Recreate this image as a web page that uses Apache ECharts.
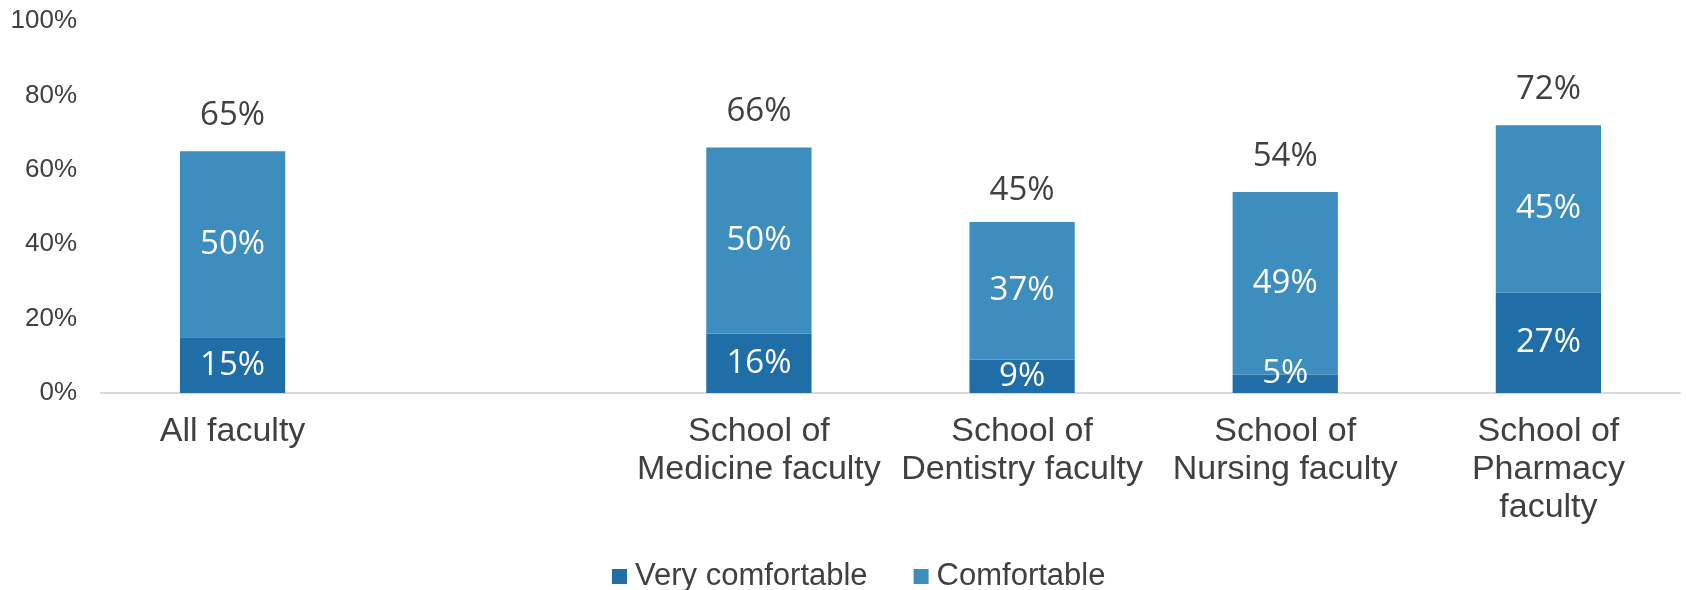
<!DOCTYPE html>
<html>
<head>
<meta charset="utf-8">
<script src="https://cdn.jsdelivr.net/npm/echarts@6/dist/echarts.min.js"></script>
<style>
html,body{margin:0;padding:0;background:#fff;}
#container{width:1686px;height:590px;}
</style>
</head>
<body>
<div id="container"></div>
<script>
// categories (the blank one is the gap after "All faculty")
var categories = ['All faculty', '', 'School of\nMedicine faculty', 'School of\nDentistry faculty', 'School of\nNursing faculty', 'School of\nPharmacy\nfaculty'];
var veryComfortable = [15, null, 16, 9, 5, 27];
var comfortable = [50, null, 50, 37, 49, 45];
var totals = [65, null, 66, 45, 54, 72];
var yTicks = [0, 20, 40, 60, 80, 100];

var dark = '#1f6ea8';
var light = '#3d8dbe';
var textColor = '#404040';

// very small segments: Excel lifts the label a bit
function withLift(arr) {
    return arr.map(function (v) {
        if (v != null && v < 7) {
            return { value: v, label: { offset: [0, -10] } };
        }
        return v;
    });
}

var dom = document.getElementById('container');
var myChart = echarts.init(dom);
var option = {
    animation: false,
    grid: {
        left: 101,
        right: 6,
        top: 21,
        bottom: 197
    },
    legend: {
        data: ['Very comfortable', 'Comfortable'],
        left: 607,
        top: 556,
        itemWidth: 15,
        itemHeight: 15,
        itemGap: 46,
        icon: 'rect',
        textStyle: {
            fontFamily: 'Liberation Sans',
            fontSize: 31,
            color: textColor,
            padding: [0, 0, 0, 3]
        }
    },
    xAxis: {
        type: 'category',
        data: categories,
        axisLine: { lineStyle: { color: '#d9d9d9', width: 2 } },
        axisTick: { show: false },
        axisLabel: {
            interval: 0,
            margin: 20,
            fontFamily: 'Liberation Sans',
            fontSize: 34,
            lineHeight: 38,
            color: textColor
        }
    },
    yAxis: {
        type: 'value',
        min: yTicks[0],
        max: yTicks[yTicks.length - 1],
        interval: 20,
        axisLine: { show: false },
        axisTick: { show: false },
        splitLine: { show: false },
        axisLabel: {
            formatter: '{value}%',
            margin: 24,
            fontFamily: 'Liberation Sans',
            fontSize: 26,
            color: textColor
        }
    },
    series: [{
        name: 'Very comfortable',
        type: 'bar',
        stack: 'a',
        barWidth: '40%',
        barGap: '-100%',
        itemStyle: { color: dark },
        label: {
            show: true,
            position: 'inside',
            formatter: '{c}%',
            fontFamily: 'Open Sans',
            fontSize: 33,
            color: '#fff'
        },
        data: withLift(veryComfortable)
    }, {
        name: 'Comfortable',
        type: 'bar',
        stack: 'a',
        barWidth: '40%',
        barGap: '-100%',
        itemStyle: { color: light },
        label: {
            show: true,
            position: 'inside',
            formatter: '{c}%',
            fontFamily: 'Open Sans',
            fontSize: 33,
            color: '#fff'
        },
        data: comfortable
    }, {
        name: 'Total',
        type: 'bar',
        barWidth: '40%',
        barGap: '-100%',
        z: 1,
        silent: true,
        itemStyle: { color: 'rgba(0,0,0,0)' },
        label: {
            show: true,
            position: 'top',
            distance: 19,
            formatter: '{c}%',
            fontFamily: 'Open Sans',
            fontSize: 33,
            color: textColor
        },
        data: totals
    }]
};
myChart.setOption(option, true);
</script>
</body>
</html>
